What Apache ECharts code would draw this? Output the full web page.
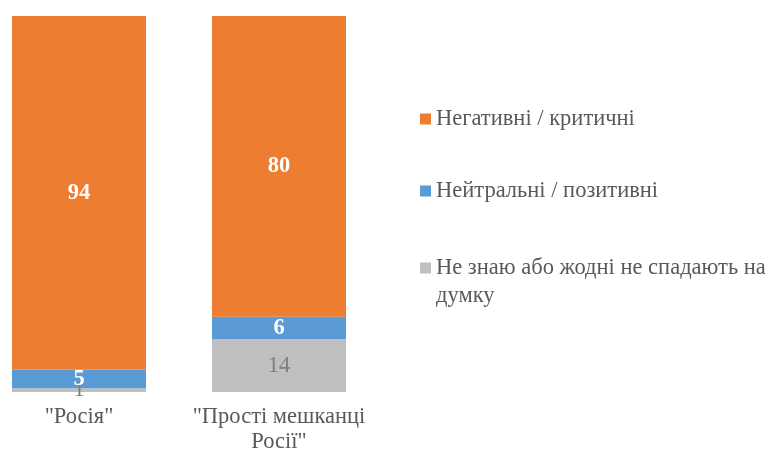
<!DOCTYPE html>
<html>
<head>
<meta charset="utf-8">
<script src="https://cdn.jsdelivr.net/npm/echarts@6/dist/echarts.min.js"></script>
<style>
  html, body { margin: 0; padding: 0; background: #fff; }
  #chart { width: 780px; height: 474px; }
</style>
</head>
<body>
<div id="chart"></div>
<script>
// data
const categories = ['"Росія"', '"Прості мешканці\nРосії"'];
const seriesNames = ['Негативні / критичні', 'Нейтральні / позитивні', 'Не знаю або жодні не спадають на думку'];
const negative = [94, 80];
const neutral = [5, 6];
const dontKnow = [1, 14];

const colors = ['#ED7D31', '#5B9BD5', '#BFBFBF'];
const textColor = '#595959';
const font = 'Liberation Serif, DejaVu Serif, serif';
const fontSize = 22.5;

const chart = echarts.init(document.getElementById('chart'));

function barSeries(name, data, color, label) {
  return {
    name: name,
    type: 'bar',
    stack: 'total',
    barWidth: 134,
    data: data,
    itemStyle: { color: color },
    label: Object.assign({
      show: true,
      position: 'inside',
      fontFamily: font,
      fontSize: fontSize
    }, label),
    emphasis: { disabled: true },
    animation: false
  };
}

// the long name wraps; an empty first line keeps the icon level with the first text line
function legendFor(name, top) {
  return {
    data: [name],
    orient: 'vertical',
    left: 420,
    top: top,
    padding: 0,
    itemWidth: 11,
    itemHeight: 11,
    icon: 'rect',
    itemGap: 0,
    formatter: n => n === seriesNames[2] ? ' \nНе знаю або жодні не спадають на\nдумку' : n,
    textStyle: {
      color: textColor,
      fontFamily: font,
      fontSize: fontSize,
      lineHeight: 28
    }
  };
}

chart.setOption({
  animation: false,
  grid: { left: 79, width: 200, top: 16, bottom: 82 },
  xAxis: {
    type: 'category',
    data: categories,
    boundaryGap: false,
    axisLine: { show: false },
    axisTick: { show: false },
    axisLabel: {
      interval: 0,
      color: textColor,
      fontFamily: font,
      fontSize: fontSize,
      lineHeight: 25,
      margin: 13
    }
  },
  yAxis: { type: 'value', min: 0, max: 100, show: false },
  legend: [
    legendFor(seriesNames[0], 105),
    legendFor(seriesNames[1], 177),
    legendFor(seriesNames[2], 226)
  ],
  series: [
    barSeries(seriesNames[2], dontKnow, colors[2], { color: '#7F7F7F' }),
    barSeries(seriesNames[1], neutral, colors[1], { color: '#fff', fontWeight: 'bold' }),
    barSeries(seriesNames[0], negative, colors[0], { color: '#fff', fontWeight: 'bold' })
  ]
});
</script>
</body>
</html>
